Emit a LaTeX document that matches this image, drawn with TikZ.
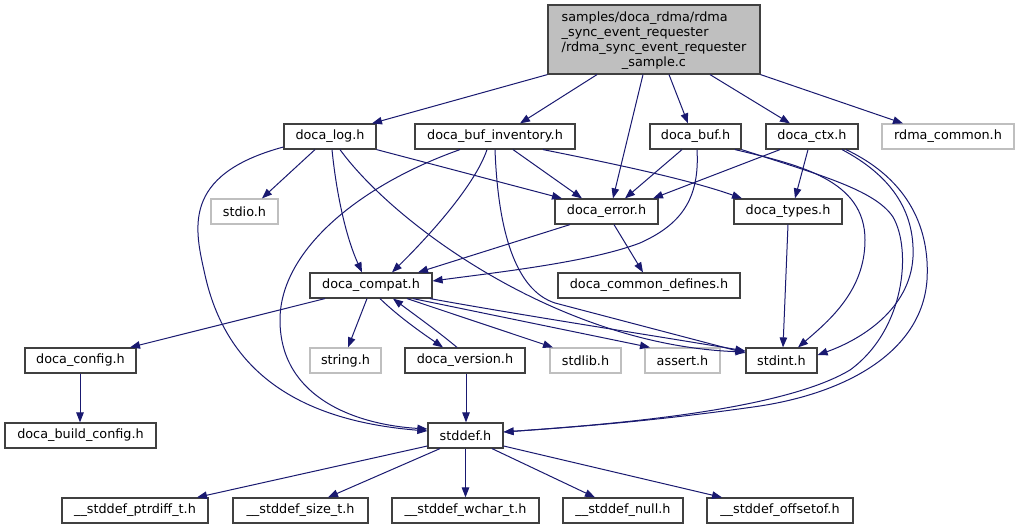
\documentclass[tikz,border=0pt]{standalone}
\usepackage{fontspec}
\setmainfont{DejaVu Sans}
\usetikzlibrary{arrows.meta}
\definecolor{edgeblue}{HTML}{191970}
\definecolor{boxborder}{HTML}{404040}
\definecolor{extborder}{HTML}{BFBFBF}
\definecolor{mainfill}{HTML}{BFBFBF}
\newcommand\lab{\fontsize{12.8}{15}\selectfont}
\tikzset{
  box/.style={draw=boxborder, line width=1.2pt, fill=white, inner sep=0pt, font=\lab, minimum height=25pt},
  extbox/.style={box, draw=extborder},
  mainbox/.style={box, fill=mainfill},
  dep/.style={draw=edgeblue, line width=1pt, -{Triangle[length=10pt,width=7.5pt]}}
}
\begin{document}
\begin{tikzpicture}[x=1pt,y=-1pt]
\useasboundingbox[fill=white] (0,0) rectangle (1020,529);
% nodes
\node[mainbox, minimum width=212pt, minimum height=69pt] (main) at (654,39.5)
  {\raisebox{-2pt}[\height][\depth]{\begin{tabular}{@{}l@{}}samples/doca\_rdma/rdma\\\_sync\_event\_requester\\/rdma\_sync\_event\_requester\\\multicolumn{1}{@{}c@{}}{\_sample.c}\end{tabular}}};
\node[box, minimum width=92pt] (log) at (330,136.5) {doca\_log.h};
\node[box, minimum width=160pt] (inv) at (495,136.5) {doca\_buf\_inventory.h};
\node[box, minimum width=91pt] (buf) at (695.5,136.5) {doca\_buf.h};
\node[box, minimum width=92pt] (ctx) at (812,136.5) {doca\_ctx.h};
\node[extbox, minimum width=132pt] (rdma) at (948,136.5) {rdma\_common.h};
\node[extbox, minimum width=67pt] (stdio) at (244.5,211.5) {stdio.h};
\node[box, minimum width=103pt] (err) at (606.5,211.5) {doca\_error.h};
\node[box, minimum width=108pt] (types) at (788,211.5) {doca\_types.h};
\node[box, minimum width=122pt] (compat) at (371,285.5) {doca\_compat.h};
\node[box, minimum width=182pt] (common) at (649,285.5) {doca\_common\_defines.h};
\node[box, minimum width=111pt] (config) at (80.5,360.5) {doca\_config.h};
\node[extbox, minimum width=71pt] (string) at (345.5,360.5) {string.h};
\node[box, minimum width=120pt] (version) at (465,360.5) {doca\_version.h};
\node[extbox, minimum width=71pt] (stdlib) at (585.5,360.5) {stdlib.h};
\node[extbox, minimum width=75pt] (assert) at (682.5,360.5) {assert.h};
\node[box, minimum width=71pt] (stdint) at (781.5,360.5) {stdint.h};
\node[box, minimum width=151pt] (build) at (80.5,435.5) {doca\_build\_config.h};
\node[box, minimum width=75pt] (stddef) at (465.5,435.5) {stddef.h};
\node[box, minimum width=146pt] (ptrdiff) at (135,510.5) {\_\_stddef\_ptrdiff\_t.h};
\node[box, minimum width=135pt] (size) at (300.5,510.5) {\_\_stddef\_size\_t.h};
\node[box, minimum width=147pt] (wchar) at (465.5,510.5) {\_\_stddef\_wchar\_t.h};
\node[box, minimum width=120pt] (null) at (623,510.5) {\_\_stddef\_null.h};
\node[box, minimum width=146pt] (offsetof) at (780,510.5) {\_\_stddef\_offsetof.h};
% edges from main
\draw[dep] (main.south west) -- (log.north -| 372,0);
\draw[dep] (main.south -| 597,0) -- (inv.north -| 520,0);
\draw[dep] (main.south -| 643,0) -- (err.north -| 613,0);
\draw[dep] (main.south -| 669,0) -- (buf.north -| 688,0);
\draw[dep] (main.south -| 710,0) -- (ctx.north -| 790,0);
\draw[dep] (main.south east) -- (rdma.north -| 903,0);
% doca_log
\draw[dep] (log.south -| 315,0) -- (stdio.north -| 262,0);
\draw[dep] (log.south east) -- (err.north -| 562,0);
\draw[dep] (log.south -| 332,0) .. controls (336,190) and (345,235) .. (compat.north -| 362,0);
\draw[dep] (log.south -| 340,0) .. controls (395,225) and (560,345) .. (stdint.west |- 0,352);
\draw[dep] (log.west |- 0,147) .. controls (180,175) and (195,230) .. (205,275)
  .. controls (225,365) and (290,420) .. (stddef.west |- 0,431);
% doca_buf_inventory
\draw[dep] (inv.south -| 513,0) -- (err.north -| 582,0);
\draw[dep] (inv.south -| 487,0) .. controls (475,185) and (430,235) .. (compat.north -| 392,0);
\draw[dep] (inv.south -| 543,0) .. controls (620,165) and (690,180) .. (types.north -| 742,0);
\draw[dep] (inv.south -| 495,0) .. controls (498,230) and (515,290) .. (555,303) -- (stdint.west |- 0,353);
\draw[dep] (inv.south -| 460,0) .. controls (360,185) and (280,250) .. (280,320)
  .. controls (280,400) and (360,425) .. (stddef.west |- 0,429);
% doca_buf
\draw[dep] (buf.south -| 682,0) -- (err.north -| 625,0);
\draw[dep] (buf.south -| 697,0) .. controls (700,200) and (680,225) .. (640,243)
  .. controls (590,262) and (500,272) .. (compat.east |- 0,281);
\draw[dep] (buf.south -| 735,0) .. controls (800,165) and (865,180) .. (865,240)
  .. controls (865,290) and (830,320) .. (stdint.north -| 798,0);
\draw[dep] (buf.south east) .. controls (820,175) and (875,190) .. (893,217)
  .. controls (912,250) and (905,330) .. (850,370)
  .. controls (780,412) and (600,425) .. (stddef.east |- 0,432);
% doca_ctx
\draw[dep] (ctx.south -| 780,0) -- (err.north -| 653,0);
\draw[dep] (ctx.south -| 808,0) -- (types.north -| 795,0);
\draw[dep] (ctx.south -| 842,0) .. controls (890,175) and (915,210) .. (913,257)
  .. controls (910,310) and (860,340) .. (stdint.east |- 0,355);
\draw[dep] (ctx.south -| 846,0) .. controls (910,180) and (930,230) .. (927,280)
  .. controls (922,350) and (850,392) .. (760,406)
  .. controls (650,422) and (560,428) .. (stddef.east |- 0,432);
% doca_error, doca_types
\draw[dep] (err.south -| 570,0) -- (compat.north -| 418,0);
\draw[dep] (err.south -| 614,0) -- (common.north -| 643,0);
\draw[dep] (types.south -| 788,0) -- (stdint.north -| 783,0);
% doca_compat
\draw[dep] (compat.south -| 325,0) -- (config.north -| 130,0);
\draw[dep] (compat.south -| 367,0) -- (string.north -| 348,0);
\draw[dep] (compat.south -| 380,0) .. controls (400,318) and (425,335) .. (version.north -| 443,0);
\draw[dep] (version.north -| 457,0) .. controls (440,333) and (415,315) .. (compat.south -| 393,0);
\draw[dep] (compat.south -| 407,0) -- (stdlib.north -| 553,0);
\draw[dep] (compat.south -| 413,0) -- (assert.north -| 650,0);
\draw[dep] (compat.south -| 430,0) .. controls (520,315) and (650,335) .. (stdint.west |- 0,351);
% others
\draw[dep] (version.south -| 466,0) -- (stddef.north -| 466,0);
\draw[dep] (config.south -| 80,0) -- (build.north -| 80,0);
\draw[dep] (stddef.west |- 0,446) -- (ptrdiff.north -| 197,0);
\draw[dep] (stddef.south -| 440,0) -- (size.north -| 328,0);
\draw[dep] (stddef.south -| 465.5,0) -- (wchar.north -| 465.5,0);
\draw[dep] (stddef.south -| 492,0) -- (null.north -| 595,0);
\draw[dep] (stddef.east |- 0,446) -- (offsetof.north -| 722,0);
\end{tikzpicture}
\end{document}
